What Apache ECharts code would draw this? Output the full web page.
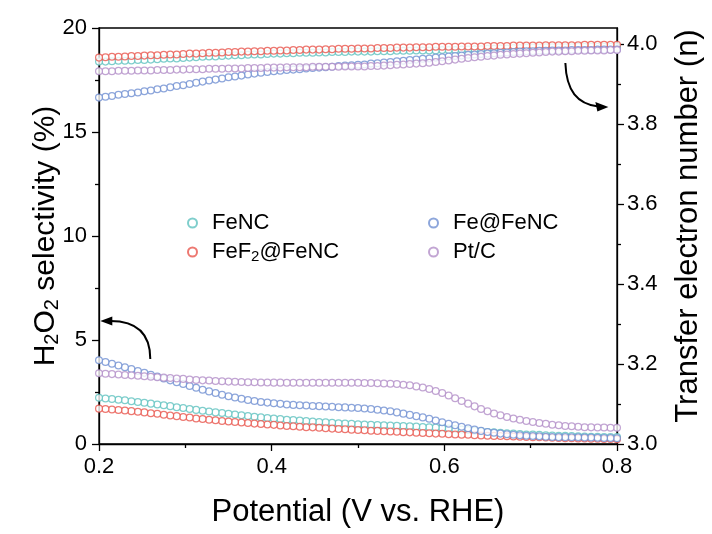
<!DOCTYPE html>
<html>
<head>
<meta charset="utf-8">
<script src="https://cdn.jsdelivr.net/npm/echarts@6/dist/echarts.min.js"></script>
<style>
html,body{margin:0;padding:0;background:#fff;}
#chart{width:712px;height:534px;}
</style>
</head>
<body>
<div id="chart"></div>
<script>
// ---------- data ----------
const potential = [0.2000,0.2075,0.2150,0.2225,0.2300,0.2375,0.2450,0.2525,0.2600,0.2675,
0.2750,0.2825,0.2900,0.2975,0.3050,0.3125,0.3200,0.3275,0.3350,0.3425,
0.3500,0.3575,0.3650,0.3725,0.3800,0.3875,0.3950,0.4025,0.4100,0.4175,
0.4250,0.4325,0.4400,0.4475,0.4550,0.4625,0.4700,0.4775,0.4850,0.4925,
0.5000,0.5075,0.5150,0.5225,0.5300,0.5375,0.5450,0.5525,0.5600,0.5675,
0.5750,0.5825,0.5900,0.5975,0.6050,0.6125,0.6200,0.6275,0.6350,0.6425,
0.6500,0.6575,0.6650,0.6725,0.6800,0.6875,0.6950,0.7025,0.7100,0.7175,
0.7250,0.7325,0.7400,0.7475,0.7550,0.7625,0.7700,0.7775,0.7850,0.7925,
0.8000];

const seriesNames = ['FeNC', 'FeF2@FeNC', 'Fe@FeNC', 'Pt/C'];
const seriesColors = ['#5fc2bf', '#e8564d', '#7090d2', '#b38fc8'];

// H2O2 selectivity (%)
const h2o2_FeNC = [2.22,2.19,2.16,2.13,2.10,2.06,2.02,1.98,1.94,1.90,
1.86,1.82,1.77,1.73,1.68,1.64,1.60,1.56,1.52,1.49,
1.45,1.42,1.38,1.35,1.31,1.28,1.25,1.22,1.20,1.17,
1.15,1.13,1.11,1.08,1.06,1.04,1.02,1.00,0.98,0.97,
0.95,0.94,0.93,0.91,0.90,0.89,0.88,0.86,0.85,0.84,
0.82,0.81,0.79,0.77,0.75,0.72,0.70,0.67,0.64,0.61,
0.58,0.56,0.54,0.52,0.50,0.48,0.46,0.45,0.44,0.42,
0.41,0.40,0.39,0.38,0.37,0.36,0.35,0.35,0.34,0.34,
0.33];
const h2o2_FeF2 = [1.70,1.68,1.66,1.63,1.61,1.58,1.55,1.52,1.48,1.45,
1.41,1.37,1.34,1.30,1.27,1.23,1.20,1.17,1.14,1.11,
1.08,1.06,1.03,1.01,0.98,0.96,0.94,0.92,0.89,0.87,
0.85,0.83,0.81,0.80,0.78,0.76,0.74,0.72,0.71,0.69,
0.67,0.66,0.64,0.63,0.61,0.60,0.59,0.57,0.56,0.54,
0.53,0.52,0.50,0.49,0.47,0.46,0.45,0.44,0.42,0.41,
0.40,0.39,0.38,0.37,0.36,0.35,0.34,0.33,0.32,0.31,
0.30,0.29,0.28,0.28,0.27,0.26,0.25,0.25,0.24,0.24,
0.23];
const h2o2_Fe = [4.03,3.94,3.86,3.77,3.69,3.60,3.51,3.42,3.33,3.24,
3.15,3.06,2.97,2.88,2.79,2.70,2.61,2.53,2.45,2.37,
2.30,2.24,2.18,2.12,2.07,2.02,1.99,1.96,1.93,1.90,
1.88,1.86,1.85,1.83,1.82,1.80,1.79,1.77,1.76,1.74,
1.73,1.71,1.68,1.65,1.61,1.57,1.52,1.46,1.40,1.34,
1.28,1.21,1.13,1.05,0.97,0.90,0.83,0.76,0.69,0.63,
0.58,0.54,0.50,0.47,0.44,0.42,0.40,0.38,0.37,0.35,
0.34,0.33,0.33,0.32,0.32,0.31,0.31,0.30,0.29,0.29,
0.28];
const h2o2_PtC = [3.40,3.38,3.36,3.34,3.32,3.30,3.28,3.26,3.23,3.21,
3.19,3.17,3.15,3.13,3.10,3.08,3.06,3.05,3.03,3.02,
3.00,2.99,2.98,2.97,2.97,2.96,2.96,2.95,2.95,2.94,
2.94,2.94,2.94,2.94,2.94,2.94,2.94,2.94,2.94,2.94,
2.94,2.93,2.93,2.92,2.91,2.90,2.88,2.85,2.82,2.77,
2.72,2.64,2.55,2.45,2.33,2.20,2.07,1.94,1.81,1.68,
1.57,1.47,1.38,1.30,1.23,1.17,1.11,1.06,1.01,0.97,
0.93,0.90,0.87,0.85,0.83,0.81,0.80,0.79,0.79,0.78,
0.78];

// transfer electron number (n)
const n_FeNC = [3.956,3.956,3.957,3.958,3.958,3.959,3.960,3.960,3.961,3.962,
3.963,3.964,3.964,3.965,3.966,3.967,3.968,3.969,3.969,3.970,
3.971,3.972,3.972,3.973,3.974,3.974,3.975,3.976,3.976,3.977,
3.977,3.978,3.978,3.978,3.979,3.979,3.980,3.980,3.980,3.981,
3.981,3.981,3.981,3.982,3.982,3.982,3.983,3.983,3.983,3.984,
3.984,3.984,3.984,3.985,3.985,3.985,3.986,3.986,3.987,3.987,
3.988,3.988,3.989,3.989,3.990,3.990,3.991,3.991,3.991,3.992,
3.992,3.992,3.992,3.992,3.993,3.993,3.993,3.993,3.993,3.993,
3.993];
const n_FeF2 = [3.966,3.967,3.968,3.968,3.969,3.970,3.970,3.971,3.972,3.972,
3.973,3.974,3.974,3.975,3.976,3.976,3.977,3.978,3.978,3.979,
3.980,3.980,3.981,3.981,3.982,3.982,3.983,3.983,3.984,3.984,
3.985,3.985,3.986,3.986,3.986,3.987,3.987,3.988,3.988,3.988,
3.989,3.989,3.989,3.990,3.990,3.990,3.991,3.991,3.991,3.992,
3.992,3.992,3.993,3.993,3.993,3.993,3.994,3.994,3.994,3.994,
3.995,3.995,3.995,3.995,3.996,3.996,3.996,3.996,3.996,3.997,
3.997,3.997,3.997,3.997,3.997,3.998,3.998,3.998,3.998,3.998,
3.998];
const n_Fe = [3.866,3.868,3.870,3.873,3.875,3.877,3.879,3.882,3.884,3.887,
3.889,3.892,3.895,3.897,3.900,3.903,3.906,3.909,3.911,3.914,
3.917,3.919,3.921,3.924,3.926,3.928,3.930,3.932,3.933,3.935,
3.936,3.937,3.939,3.940,3.941,3.942,3.943,3.945,3.946,3.947,
3.948,3.949,3.951,3.952,3.954,3.955,3.957,3.958,3.960,3.961,
3.963,3.964,3.966,3.967,3.969,3.970,3.971,3.973,3.974,3.975,
3.976,3.977,3.978,3.979,3.980,3.981,3.982,3.982,3.983,3.983,
3.984,3.984,3.984,3.985,3.985,3.985,3.985,3.986,3.986,3.986,
3.986];
const n_PtC = [3.932,3.932,3.932,3.933,3.933,3.933,3.934,3.934,3.934,3.935,
3.935,3.935,3.936,3.936,3.937,3.937,3.937,3.938,3.938,3.938,
3.939,3.939,3.939,3.940,3.940,3.940,3.941,3.941,3.941,3.942,
3.942,3.942,3.942,3.943,3.943,3.943,3.943,3.943,3.944,3.944,
3.944,3.944,3.945,3.945,3.946,3.947,3.948,3.949,3.950,3.951,
3.952,3.953,3.955,3.957,3.959,3.961,3.963,3.965,3.967,3.968,
3.970,3.971,3.973,3.974,3.975,3.976,3.977,3.978,3.979,3.980,
3.981,3.981,3.982,3.982,3.983,3.983,3.984,3.984,3.984,3.985,
3.985];

const rightTicks = [3.0, 3.2, 3.4, 3.6, 3.8, 4.0];
const rightMinorTicks = [3.1, 3.3, 3.5, 3.7, 3.9];

// ---------- chart ----------
const FONT = 'Liberation Sans';
const chart = echarts.init(document.getElementById('chart'), null, {renderer: 'canvas'});

const h2o2Sets = [h2o2_FeNC, h2o2_FeF2, h2o2_Fe, h2o2_PtC];
const nSets = [n_FeNC, n_FeF2, n_Fe, n_PtC];

function pairs(arr) {
  // measurement scanned from high to low potential -> draw in that order
  return potential.map((x, i) => [x, arr[i]]).reverse();
}

function makeSeries(k, axisIdx, arr) {
  return {
    type: 'scatter',
    name: seriesNames[k],
    symbol: 'circle',
    symbolSize: 6.8,
    itemStyle: {color: '#ffffff', borderColor: seriesColors[k], borderWidth: 1.25},
    emphasis: {disabled: true},
    animation: false,
    yAxisIndex: axisIdx,
    data: pairs(arr)
  };
}
const series = [];
for (let k = 0; k < 4; k++) series.push(makeSeries(k, 0, h2o2Sets[k]));
for (let k = 0; k < 4; k++) series.push(makeSeries(k, 1, nSets[k]));

const legendRich = {
  n: {fontFamily: FONT, fontSize: 22, color: '#000', lineHeight: 24},
  s: {fontFamily: FONT, fontSize: 15, color: '#000', lineHeight: 12, verticalAlign: 'bottom'}
};
function legendFmt(name) {
  if (name === 'FeF2@FeNC') return '{n|FeF}{s|2}{n|@FeNC}';
  return '{n|' + name + '}';
}
const legendBase = {
  orient: 'vertical',
  itemWidth: 9,
  itemHeight: 9,
  itemGap: 7,
  icon: 'circle',
  selectedMode: false,
  formatter: legendFmt,
  textStyle: {fontFamily: FONT, fontSize: 22, color: '#000', rich: legendRich, padding: [0, 0, 0, 10]}
};

const axisLineStyle = {color: '#000', width: 1.3};
const tickStyle = {color: '#000', width: 1.3};
const minorStyle = {show: true, splitNumber: 2, length: 4, lineStyle: {color: '#000', width: 1.3}};

const option = {
  backgroundColor: '#ffffff',
  animation: false,
  grid: {left: 99, right: 95, top: 28, bottom: 90, show: true, borderColor: '#000', borderWidth: 1.3, containLabel: false},
  legend: [
    Object.assign({}, legendBase, {left: 182, top: 207, data: [seriesNames[0], seriesNames[1]]}),
    Object.assign({}, legendBase, {left: 423, top: 207, data: [seriesNames[2], seriesNames[3]]})
  ],
  xAxis: {
    type: 'value', min: 0.2, max: 0.8, interval: 0.2,
    name: 'Potential (V vs. RHE)', nameLocation: 'middle', nameGap: 53,
    nameTextStyle: {fontFamily: FONT, fontSize: 31, color: '#000'},
    axisLine: {show: true, lineStyle: axisLineStyle},
    axisTick: {show: true, inside: false, length: 7, lineStyle: tickStyle},
    minorTick: minorStyle,
    axisLabel: {fontFamily: FONT, fontSize: 22, color: '#000', margin: 12,
      formatter: v => v.toFixed(1)},
    splitLine: {show: false},
    minorSplitLine: {show: false}
  },
  yAxis: [
    {
      type: 'value', min: 0, max: 20, interval: 5, position: 'left',
      name: '{a|H}{b|2}{a|O}{b|2}{a| selectivity (%)}',
      nameLocation: 'middle', nameGap: 37, nameRotate: 90, nameMoveOverlap: false,
      nameTextStyle: {fontFamily: FONT, fontSize: 30, color: '#000',
        rich: {
          a: {fontFamily: FONT, fontSize: 30, color: '#000', lineHeight: 32},
          b: {fontFamily: FONT, fontSize: 20, color: '#000', lineHeight: 14, verticalAlign: 'bottom'}
        }},
      axisLine: {show: true, lineStyle: axisLineStyle},
      axisTick: {show: true, inside: false, length: 7, lineStyle: tickStyle},
      minorTick: minorStyle,
      axisLabel: {fontFamily: FONT, fontSize: 22, color: '#000', margin: 12,
        formatter: v => String(v)},
      splitLine: {show: false},
      minorSplitLine: {show: false}
    },
    {
      type: 'value', min: 3.0, max: 4.04, interval: 0.2, position: 'right',
      name: 'Transfer electron number (n)', nameLocation: 'middle', nameGap: 56, nameRotate: 90,
      nameMoveOverlap: false,
      nameTextStyle: {fontFamily: FONT, fontSize: 31, color: '#000', padding: [0, 0, 0, 20]},
      axisLine: {show: true, onZero: false, lineStyle: axisLineStyle},
      axisTick: {show: true, inside: false, length: 7, customValues: rightTicks, lineStyle: tickStyle},
      axisLabel: {fontFamily: FONT, fontSize: 22, color: '#000', margin: 10,
        customValues: rightTicks, formatter: v => v.toFixed(1)},
      splitLine: {show: false}
    },
    {
      type: 'value', min: 3.0, max: 4.04, interval: 0.2, position: 'right',
      axisLine: {show: false},
      axisTick: {show: true, inside: false, length: 4, customValues: rightMinorTicks, lineStyle: tickStyle},
      axisLabel: {show: false},
      splitLine: {show: false}
    }
  ],
  series: series
};
chart.setOption(option);

// ---------- annotation arrows (anchored to data coordinates) ----------
const arrowTips = [[0.790, 16.20], [0.2015, 5.91]];
const T1 = chart.convertToPixel({xAxisIndex: 0, yAxisIndex: 0}, arrowTips[0]);
const T2 = chart.convertToPixel({xAxisIndex: 0, yAxisIndex: 0}, arrowTips[1]);
chart.setOption({
  graphic: [
    {type: 'bezierCurve', silent: true,
      shape: {x1: T1[0] - 43, y1: T1[1] - 44, cpx1: T1[0] - 42, cpy1: T1[1] - 16,
              cpx2: T1[0] - 31, cpy2: T1[1] - 3, x2: T1[0] - 10, y2: T1[1] - 0.5},
      style: {stroke: '#000', lineWidth: 2, fill: null}},
    {type: 'polygon', silent: true,
      shape: {points: [[T1[0], T1[1]], [T1[0] - 13, T1[1] - 5], [T1[0] - 11, T1[1] + 4.5]]},
      style: {fill: '#000'}},
    {type: 'bezierCurve', silent: true,
      shape: {x1: T2[0] + 50, y1: T2[1] + 38, cpx1: T2[0] + 50, cpy1: T2[1] + 14,
              cpx2: T2[0] + 38, cpy2: T2[1] + 0, x2: T2[0] + 10, y2: T2[1]},
      style: {stroke: '#000', lineWidth: 2, fill: null}},
    {type: 'polygon', silent: true,
      shape: {points: [[T2[0], T2[1]], [T2[0] + 12, T2[1] - 4.5], [T2[0] + 12, T2[1] + 4.5]]},
      style: {fill: '#000'}}
  ]
});
</script>
</body>
</html>
